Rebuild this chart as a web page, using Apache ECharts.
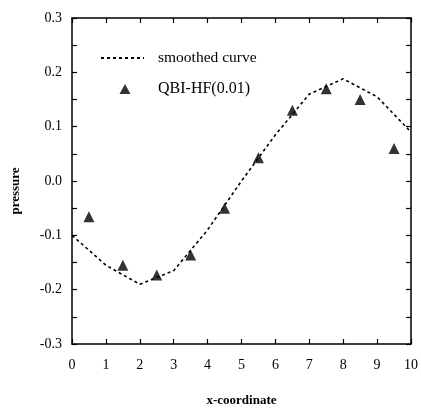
<!DOCTYPE html>
<html><head><meta charset="utf-8">
<script src="https://cdn.jsdelivr.net/npm/echarts@6/dist/echarts.min.js"></script>
<style>html,body{margin:0;padding:0;background:#fff}#c{width:421px;height:412px}</style>
</head><body><div id="c"></div>
<script>
const curveX = [0,1,2,3,4,5,6,7,8,9,10];
const curveY = [-0.10,-0.155,-0.19,-0.165,-0.09,0.0,0.085,0.16,0.188,0.155,0.09];
const pointX = [0.5,1.5,2.5,3.5,4.5,5.5,6.5,7.5,8.5,9.5];
const pointY = [-0.066,-0.155,-0.173,-0.136,-0.05,0.043,0.13,0.17,0.15,0.06];
const seriesNames = ['smoothed curve','QBI-HF(0.01)'];
const xTitle = 'x-coordinate', yTitle = 'pressure';

const font = 'Liberation Serif';
const chart = echarts.init(document.getElementById('c'));
const axBase = {
  axisLine:{show:true,onZero:false,lineStyle:{color:'#000',width:1.5}},
  axisTick:{show:true,inside:true,length:5,lineStyle:{color:'#000',width:1.2}},
  splitLine:{show:false}
};
chart.setOption({
  animation:false,
  grid:{left:72,right:7,top:18,bottom:68,containLabel:false},
  legend:{
    orient:'vertical', left:95, top:45, itemGap:15, itemWidth:43, itemHeight:12,
    data:[
      {name:seriesNames[0], textStyle:{fontSize:15.5}, itemStyle:{color:'rgba(0,0,0,0)',borderWidth:0,opacity:0}},
      {name:seriesNames[1], textStyle:{fontSize:16},
        icon:'path://M-21.5,0L-21.5,0M21.5,12L21.5,12M2.5,1L8,11L-3,11Z'}
    ],
    textStyle:{fontFamily:font,color:'#000',padding:[0,0,0,9]}
  },
  xAxis:[
    Object.assign({type:'value',min:0,max:10,interval:1,position:'bottom',
      name:xTitle,nameLocation:'middle',nameGap:50,
      nameTextStyle:{fontFamily:font,fontSize:13,color:'#000',fontWeight:'bold'},
      axisLabel:{fontFamily:font,fontSize:14,color:'#000',margin:14}},axBase),
    Object.assign({type:'value',min:0,max:10,interval:1,position:'top',
      axisLabel:{show:false}},axBase)
  ],
  yAxis:[
    Object.assign({type:'value',min:-0.3,max:0.3,interval:0.1,position:'left',
      name:yTitle,nameLocation:'middle',nameGap:50,
      nameTextStyle:{fontFamily:font,fontSize:13,color:'#000',fontWeight:'bold',padding:[0,20,0,0]},
      minorTick:{show:true,splitNumber:2,length:5,lineStyle:{color:'#000',width:1.2}},
      axisLabel:{fontFamily:font,fontSize:14,color:'#000',margin:10,
        formatter:v=>v.toFixed(1)}},axBase),
    Object.assign({type:'value',min:-0.3,max:0.3,interval:0.1,position:'right',
      minorTick:{show:true,splitNumber:2,length:5,lineStyle:{color:'#000',width:1.2}},
      axisLabel:{show:false}},axBase)
  ],
  series:[
    {name:seriesNames[0],type:'line',symbol:'none',
      data:curveX.map((x,i)=>[x,curveY[i]]),
      lineStyle:{color:'#000',width:1.6,type:[3,3]},itemStyle:{color:'#000'}},
    {name:seriesNames[1],type:'scatter',symbol:'triangle',symbolSize:11,
      data:pointX.map((x,i)=>[x,pointY[i]]),
      itemStyle:{color:'#000'}}
  ]
});
</script></body></html>
